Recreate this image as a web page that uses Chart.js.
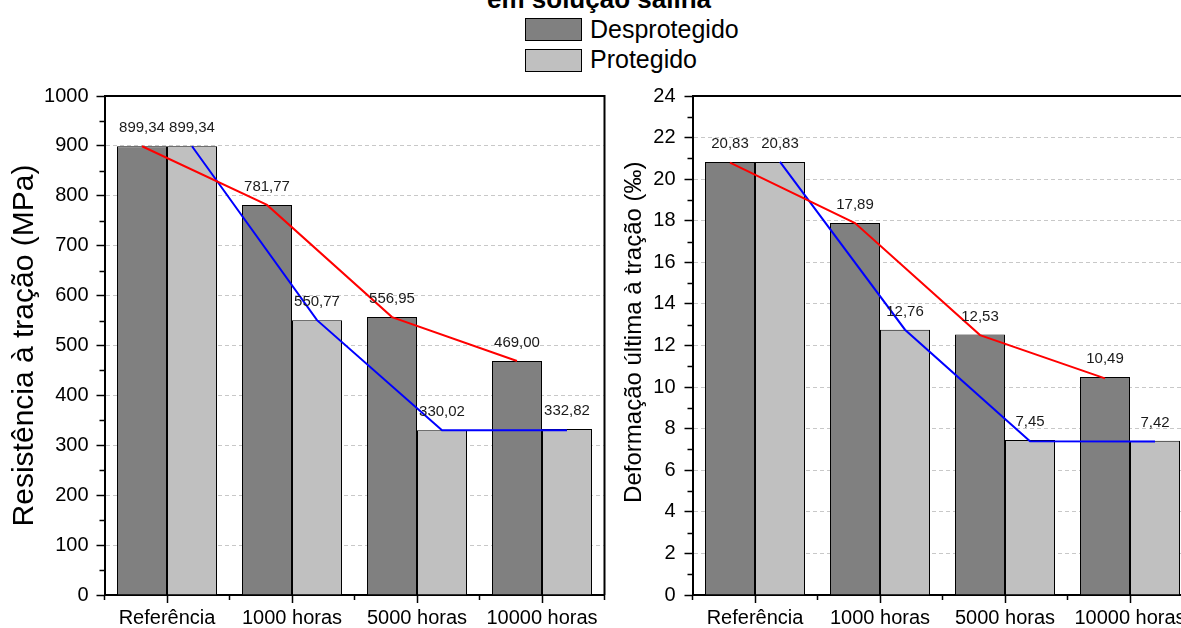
<!DOCTYPE html>
<html>
<head>
<meta charset="utf-8">
<script src="https://cdn.jsdelivr.net/npm/chart.js@4.4.1/dist/chart.umd.min.js"></script>
<style>
  html, body { margin: 0; padding: 0; background: #fff; overflow: hidden; width: 1181px; height: 628px; }
  body { position: relative; font-family: "Liberation Sans", Arial, sans-serif; color: #000; }
  canvas { position: absolute; top: 0; }
  #chartLeft { left: 0; }
  #chartRight { left: 600px; }
  .title { position: absolute; left: 399px; top: -14px; width: 400px; text-align: center;
           font-weight: bold; font-size: 26px; line-height: 26px; white-space: nowrap; }
  .lg-box { position: absolute; left: 525px; width: 57px; height: 23px; box-sizing: border-box; border: 1px solid #000; }
  .lg-text { position: absolute; left: 590px; font-size: 25px; line-height: 25px; white-space: nowrap; }
</style>
</head>
<body>
<div class="title">em solução salina</div>
<div class="lg-box" id="box1" style="top:18px"></div>
<div class="lg-text" style="top:17px">Desprotegido</div>
<div class="lg-box" id="box2" style="top:49px"></div>
<div class="lg-text" style="top:47px">Protegido</div>

<canvas id="chartLeft" width="615" height="628"></canvas>
<canvas id="chartRight" width="620" height="628"></canvas>

<script>
// dados
const categories = ["Referência", "1000 horas", "5000 horas", "10000 horas"];

const tensileUnprotected = [899.34, 781.77, 556.95, 469.00];
const tensileProtected = [899.34, 550.77, 330.02, 332.82];
const strainUnprotected = [20.83, 17.89, 12.53, 10.49];
const strainProtected = [20.83, 12.76, 7.45, 7.42];

// linhas de tendência (vermelha / azul)
const tensileTrendUnprot = [899.34, 781.77, 556.95, 469.00];
const tensileTrendProt = [899.34, 550.77, 330.02, 330.0];
const strainTrendUnprot = [20.8, 17.89, 12.5, 10.42];
const strainTrendProt = [20.83, 12.76, 7.4, 7.38];

const FONT = "'Liberation Sans', Arial, sans-serif";
const DARK = "#808080";
const LIGHT = "#c0c0c0";

document.getElementById("box1").style.background = DARK;
document.getElementById("box2").style.background = LIGHT;

// coloca cada ponto da linha sobre o centro da barra correspondente
const alignTrend = {
  id: "alignTrend",
  afterDatasetsUpdate(chart) {
    chart.data.datasets.forEach((ds, di) => {
      if (ds.type !== "line") return;
      const bars = chart.getDatasetMeta(ds.alignTo).data;
      chart.getDatasetMeta(di).data.forEach((pt, i) => {
        pt.x = bars[i].x;
      });
    });
  },
};

// rótulos de valor acima das barras
const valueLabels = {
  id: "valueLabels",
  afterDatasetsDraw(chart) {
    const { ctx } = chart;
    ctx.save();
    ctx.font = "15px " + FONT;
    ctx.fillStyle = "#1a1a1a";
    ctx.textAlign = "center";
    ctx.textBaseline = "middle";
    chart.data.datasets.forEach((ds, di) => {
      if (ds.type === "line") return;
      const meta = chart.getDatasetMeta(di);
      meta.data.forEach((bar, i) => {
        const txt = ds.data[i].toFixed(2).replace(".", ",");
        ctx.fillText(txt, bar.x, bar.y - 18);
      });
    });
    ctx.restore();
  },
};

// moldura superior/direita e ticks menores
const framePlugin = {
  id: "frame",
  afterDraw(chart) {
    const { ctx, chartArea: a, scales } = chart;
    ctx.save();
    ctx.strokeStyle = "#000";
    ctx.lineWidth = 2;
    ctx.beginPath();
    ctx.moveTo(a.left, a.top);
    ctx.lineTo(a.right, a.top);
    ctx.lineTo(a.right, a.bottom);
    ctx.stroke();

    ctx.lineWidth = 1.5;
    ctx.beginPath();
    const y = scales.y;
    const step = y.options.ticks.stepSize;
    for (let v = step / 2; v < y.max; v += step) {
      const py = Math.round(y.getPixelForValue(v)) + 0.5;
      ctx.moveTo(a.left - 5, py);
      ctx.lineTo(a.left, py);
    }
    const n = chart.data.labels.length;
    for (let i = 0; i <= n; i++) {
      const px = a.left + ((a.right - a.left) * i) / n;
      ctx.moveTo(px, a.bottom);
      ctx.lineTo(px, a.bottom + 5);
    }
    ctx.stroke();
    ctx.restore();
  },
};

function makeChart(canvasId, opts) {
  return new Chart(document.getElementById(canvasId), {
    type: "bar",
    data: {
      labels: categories,
      datasets: [
        {
          label: "Desprotegido",
          data: opts.unprot,
          backgroundColor: DARK,
          borderColor: "#000",
          borderWidth: 1,
          categoryPercentage: 0.8,
          barPercentage: 1.0,
          order: 1,
        },
        {
          label: "Protegido",
          data: opts.prot,
          backgroundColor: LIGHT,
          borderColor: "#000",
          borderWidth: 1,
          categoryPercentage: 0.8,
          barPercentage: 1.0,
          order: 1,
        },
        {
          type: "line",
          label: "tendência desprotegido",
          data: opts.trendUnprot,
          alignTo: 0,
          borderColor: "#ff0000",
          borderWidth: 2,
          pointRadius: 0,
          fill: false,
          order: 0,
        },
        {
          type: "line",
          label: "tendência protegido",
          data: opts.trendProt,
          alignTo: 1,
          borderColor: "#0000ff",
          borderWidth: 2,
          pointRadius: 0,
          fill: false,
          order: 0,
        },
      ],
    },
    options: {
      responsive: false,
      animation: false,
      layout: { padding: { top: 96, right: opts.padRight, bottom: 0, left: 0 } },
      plugins: { legend: { display: false }, tooltip: { enabled: false } },
      scales: {
        x: {
          type: "category",
          offset: true,
          ticks: { color: "#000", font: { size: 20, family: FONT }, padding: 3, autoSkip: false, maxRotation: 0 },
          grid: { offset: false, drawOnChartArea: false, tickColor: "#000", tickLength: 8, tickWidth: 1.5 },
          border: { color: "#000", width: 2 },
          afterFit: (s) => { s.height = 33; },
        },
        y: {
          min: 0,
          max: opts.yMax,
          ticks: {
            stepSize: opts.step,
            color: "#000",
            font: { size: 20, family: FONT },
            padding: opts.tickPad,
            callback: (v) => String(v),
          },
          grid: { color: "#c8c8c8", lineWidth: 1, tickColor: "#000", tickLength: 8, tickWidth: 1.5 },
          border: { color: "#000", width: 2, dash: [4, 3] },
          title: {
            display: true,
            text: opts.yTitle,
            color: "#000",
            font: { size: opts.titleSize, family: FONT },
            padding: { top: opts.titlePad, bottom: 0 },
          },
          afterFit: (s) => { s.width = opts.yWidth; },
        },
      },
    },
    plugins: [alignTrend, valueLabels, framePlugin],
  });
}

makeChart("chartLeft", {
  unprot: tensileUnprotected,
  prot: tensileProtected,
  trendUnprot: tensileTrendUnprot,
  trendProt: tensileTrendProt,
  yMax: 1000,
  step: 100,
  yTitle: "Resistência à tração (MPa)",
  titleSize: 30,
  titlePad: 7,
  tickPad: 8,
  yWidth: 104.5,
  padRight: 10.5,
});

makeChart("chartRight", {
  unprot: strainUnprotected,
  prot: strainProtected,
  trendUnprot: strainTrendUnprot,
  trendProt: strainTrendProt,
  yMax: 24,
  step: 2,
  yTitle: "\u00a0\u00a0\u00a0\u00a0Deformação última à tração (‰)",
  titleSize: 24,
  titlePad: 20,
  tickPad: 9,
  yWidth: 92.5,
  padRight: 27.5,
});
</script>
</body>
</html>
